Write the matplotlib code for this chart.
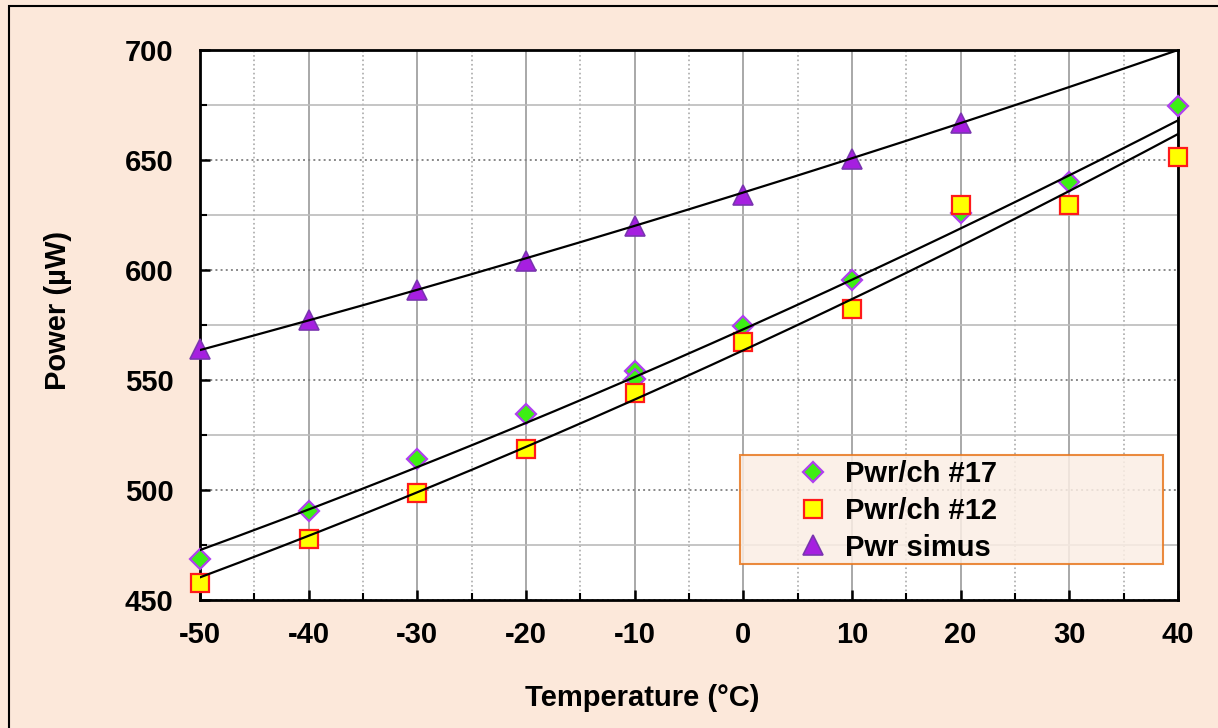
import numpy as np
import matplotlib
matplotlib.use("Agg")
import matplotlib.pyplot as plt
from matplotlib.patches import Rectangle
from matplotlib.ticker import MultipleLocator

plt.rcParams['font.family'] = ['Liberation Sans', 'DejaVu Sans']
plt.rcParams['font.weight'] = 'bold'
plt.rcParams['axes.unicode_minus'] = False

# values
temp17 = [-50, -40, -30, -20, -10, -10, 0, 10, 20, 30, 40]
pwr17 = [468.5, 490.6, 514.2, 534.4, 554.0, 550.3, 574.5, 595.5, 626.0, 640.0, 674.5]
temp12 = [-50, -40, -30, -20, -10, 0, 10, 20, 30, 40]
pwr12 = [457.6, 477.6, 498.8, 518.5, 544.2, 567.4, 582.1, 629.5, 629.5, 651.5]
temp_sim = [-50, -40, -30, -20, -10, 0, 10, 20]
pwr_sim = [564.0, 577.3, 591.0, 604.2, 620.0, 634.0, 650.5, 667.0]

# trendlines (2nd order), read at three temperatures
trend_t = [-50, -5, 40]
trend17 = [472.7, 562.1, 668.0]
trend12 = [460.3, 552.2, 661.8]
trend_sim = [563.6, 627.6, 700.0]

labels = ['Pwr/ch #17', 'Pwr/ch #12', 'Pwr simus']

bg = '#fce8da'
fig = plt.figure(figsize=(12.18, 7.28), dpi=100, facecolor=bg)
ax = fig.add_axes([200/1218, 128/728, 978/1218, 550/728])
ax.set_facecolor('white')

# frame round the whole figure (only top and left edges show)
fig.add_artist(Rectangle((9/1218, -0.1), 1.2, 1.1 - 6/728, transform=fig.transFigure,
                         fill=False, edgecolor='black', lw=1.5))

ax.plot(temp17, pwr17, ls='none', marker='D', ms=10.5, mfc='#3def14', mec='#b03ff0', mew=1.6,
        label=labels[0], zorder=3, clip_on=False)
ax.plot(temp12, pwr12, ls='none', marker='s', ms=12.5, mfc='#ffff00', mec='#ff1a1a', mew=1.6,
        label=labels[1], zorder=4, clip_on=False)
ax.plot(temp_sim, pwr_sim, ls='none', marker='^', ms=15, mfc='#a61fe0', mec='#7a35b0', mew=1.2,
        label=labels[2], zorder=5, clip_on=False)

xx = np.linspace(-50, 40, 200)
for ty in [trend17, trend12, trend_sim]:
    c = np.polyfit(trend_t, ty, 2)
    ax.plot(xx, np.polyval(c, xx), color='black', lw=1.6, zorder=6)

ax.set_xlim(-50, 40)
ax.set_ylim(450, 700)
ax.xaxis.set_major_locator(MultipleLocator(10))
ax.xaxis.set_minor_locator(MultipleLocator(5))
ax.yaxis.set_major_locator(MultipleLocator(50))
ax.yaxis.set_minor_locator(MultipleLocator(25))

ax.grid(which='major', axis='x', ls='-', color='#999999', lw=1.2)
ax.grid(which='minor', axis='x', ls=':', color='#aaaaaa', lw=1.2)
ax.grid(which='major', axis='y', ls=':', color='#888888', lw=1.4)
ax.grid(which='minor', axis='y', ls='-', color='#bbbbbb', lw=1.2)
ax.set_axisbelow(True)

for s in ax.spines.values():
    s.set_linewidth(2)

ax.tick_params(which='major', direction='in', length=7, width=1.8, labelsize=21, pad=15)
ax.tick_params(which='minor', direction='in', length=5, width=1.5)
ax.tick_params(axis='y', which='major', pad=19)
for t in ax.get_xticklabels() + ax.get_yticklabels():
    t.set_fontweight('bold')

ax.set_xlabel('Temperature (°C)', fontsize=21, fontweight='bold')
ax.set_ylabel('Power (µW)', fontsize=21, fontweight='bold')
ax.xaxis.set_label_coords(0.452, -0.153)
ax.yaxis.set_label_coords(-0.131, 0.527)

# legend box
ax.add_patch(Rectangle((0.552, 0.065), 0.433, 0.199, transform=ax.transAxes,
                       facecolor='#fbeee4', alpha=0.85, edgecolor='#e8771e', lw=1.5, zorder=7))
leg = ax.legend(loc='center left', bbox_to_anchor=(0.612, 0.162), frameon=False,
                fontsize=21, handlelength=1.0, handletextpad=0.6, labelspacing=0.3,
                borderpad=0, borderaxespad=0)
leg.set_zorder(8)
for t in leg.get_texts():
    t.set_fontweight('bold')

fig.savefig('out.png', dpi=100, facecolor=bg)
